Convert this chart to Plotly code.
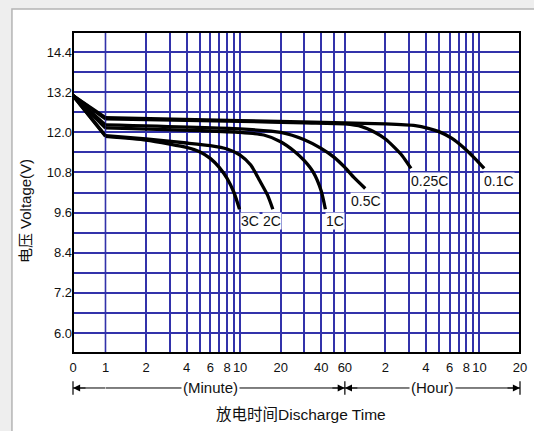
import numpy as np
import plotly.graph_objects as go

# ---------------- data (time in minutes, voltage in V) ----------------
c3_min = [0, 1, 2, 3, 4, 5, 6, 7, 8, 9, 9.9]
c3_v = [13.1, 11.88, 11.77, 11.65, 11.55, 11.42, 11.22, 10.95, 10.62, 10.2, 9.7]
c2_min = [0, 1, 2, 4, 6, 8, 10, 12, 14, 16, 17.5]
c2_v = [13.1, 11.9, 11.8, 11.68, 11.6, 11.5, 11.32, 11.02, 10.55, 10.12, 9.7]
c1_min = [0, 1, 5, 10, 15, 20, 25, 30, 35, 40, 43]
c1_v = [13.1, 12.13, 12.05, 12.0, 11.92, 11.72, 11.45, 11.15, 10.8, 10.25, 9.7]
c05_min = [0, 1, 10, 20, 30, 40, 50, 60, 70, 85]
c05_v = [13.1, 12.22, 12.1, 12.0, 11.78, 11.52, 11.25, 10.95, 10.65, 10.32]
c025_min = [0, 1, 10, 30, 60, 80, 100, 120, 140, 160, 186]
c025_v = [13.1, 12.4, 12.33, 12.28, 12.25, 12.17, 12.0, 11.8, 11.55, 11.3, 10.92]
c01_min = [0, 1, 10, 60, 120, 200, 250, 300, 375, 450, 570, 650]
c01_v = [13.1, 12.44, 12.35, 12.28, 12.25, 12.2, 12.12, 12.02, 11.82, 11.57, 11.17, 10.92]

curve_names = ["3C", "2C", "1C", "0.5C", "0.25C", "0.1C"]
curve_mins = [c3_min, c2_min, c1_min, c05_min, c025_min, c01_min]
curve_volts = [c3_v, c2_v, c1_v, c05_v, c025_v, c01_v]

# x tick labels / gridlines (minutes)
lin_ticks = [0, 1]
lin_labels = ["0", "1"]
log_grid = [1, 2, 3, 4, 5, 6, 7, 8, 9, 10, 20, 30, 40, 50, 60,
            120, 180, 240, 300, 360, 420, 480, 540, 600, 1200]
log_label_map = {2: "2", 4: "4", 6: "6", 8: "8", 10: "10", 20: "20", 40: "40", 60: "60",
                 120: "2", 240: "4", 360: "6", 480: "8", 600: "10", 1200: "20"}
log_labels = [log_label_map.get(v, "") for v in log_grid]

y_grid = [round(6.0 + 0.6 * i, 1) for i in range(15)]
y_labels = [f"{v:.1f}" if i % 2 == 0 else "" for i, v in enumerate(y_grid)]

# ---------------- style ----------------
GRID = "#3232aa"
GW = 1.6
FONT = "Liberation Sans, Arial, Noto Sans CJK SC, sans-serif"
D = 33 / 454  # split of the linear (0-1 min) and log (1 min - 20 h) parts

fig = go.Figure()
for name, mins, volts in zip(curve_names, curve_mins, curve_volts):
    fig.add_trace(go.Scatter(x=mins[:2], y=volts[:2], xaxis="x", yaxis="y", mode="lines",
                             line=dict(color="black", width=3.3), hoverinfo="skip"))
    fig.add_trace(go.Scatter(x=mins[1:], y=volts[1:], xaxis="x2", yaxis="y", mode="lines",
                             line=dict(color="black", width=3.3, shape="spline", smoothing=0.6),
                             hoverinfo="skip"))

label_pos = {
    "3C": dict(xanchor="left", xshift=0, yshift=-3),
    "2C": dict(xanchor="center", xshift=-1, yshift=-3),
    "1C": dict(xanchor="left", xshift=0, yshift=-3),
    "0.5C": dict(xanchor="center", xshift=1, yshift=-4),
    "0.25C": dict(xanchor="left", xshift=-1, yshift=-4),
    "0.1C": dict(xanchor="left", xshift=-1, yshift=-4),
}
annotations = []
for name, mins, volts in zip(curve_names, curve_mins, curve_volts):
    p = label_pos[name]
    annotations.append(dict(xref="x2", yref="y", x=np.log10(mins[-1]), y=volts[-1], text=name,
                            showarrow=False, yanchor="top", bgcolor="white", borderpad=0,
                            font=dict(family=FONT, size=14, color="#111"), **p))

arrow_y = -0.109
arrow_common = dict(yref="paper", y=arrow_y, ay=0, axref="pixel", ayref="pixel", text="",
                    showarrow=True, arrowhead=2, arrowsize=1.3, arrowwidth=1.1,
                    arrowcolor="black", standoff=0)
annotations += [
    dict(xref="paper", x=0, ax=14, **arrow_common),
    dict(xref="x2", x=np.log10(60), ax=-14, **arrow_common),
    dict(xref="x2", x=np.log10(60), ax=14, **arrow_common),
    dict(xref="paper", x=1, ax=-14, **arrow_common),
    dict(xref="x2", yref="paper", x=np.log10(6), y=arrow_y, text="(Minute)", showarrow=False,
         yanchor="middle", bgcolor="white", borderpad=1,
         font=dict(family=FONT, size=15, color="#111")),
    dict(xref="x2", yref="paper", x=np.log10(270), y=arrow_y, text="(Hour)", showarrow=False,
         yanchor="middle", bgcolor="white", borderpad=1,
         font=dict(family=FONT, size=15, color="#111")),
    dict(xref="paper", yref="paper", x=0.5, y=-0.193, xshift=4, text="放电时间Discharge Time",
         showarrow=False, xanchor="center", yanchor="middle",
         font=dict(family=FONT, size=15.5, color="#111")),
    dict(xref="paper", yref="paper", x=0, y=0.442, xshift=-48, text="电压 Voltage(V)",
         textangle=-90, showarrow=False, xanchor="center", yanchor="middle",
         font=dict(family=FONT, size=15, color="#111")),
]

bar_half = 0.021
shapes = [
    # page frame
    dict(type="rect", xref="paper", yref="paper", x0=(11 - 73) / 454, x1=1.2,
         y0=-0.4, y1=(353 - 9) / 321, line=dict(color="#b4b4b4", width=1.5),
         fillcolor="white", layer="below"),
    # 1-minute gridline at the join of the two x scales
    dict(type="line", xref="paper", yref="paper", x0=D, x1=D, y0=0, y1=1,
         line=dict(color=GRID, width=GW), layer="between"),
    # plot border
    dict(type="rect", xref="paper", yref="paper", x0=0, x1=1, y0=0, y1=1,
         line=dict(color="black", width=2), layer="above"),
    # time-span arrows
    dict(type="line", xref="x", yref="paper", x0=0, x1=1, y0=arrow_y, y1=arrow_y,
         line=dict(color="black", width=1)),
    dict(type="line", xref="x2", yref="paper", x0=1, x1=1200, y0=arrow_y, y1=arrow_y,
         line=dict(color="black", width=1)),
    dict(type="line", xref="paper", yref="paper", x0=0, x1=0,
         y0=arrow_y + bar_half, y1=arrow_y - bar_half, line=dict(color="black", width=1.2)),
    dict(type="line", xref="x2", yref="paper", x0=60, x1=60,
         y0=arrow_y + bar_half, y1=arrow_y - bar_half, line=dict(color="black", width=1.2)),
    dict(type="line", xref="paper", yref="paper", x0=1, x1=1,
         y0=arrow_y + bar_half, y1=arrow_y - bar_half, line=dict(color="black", width=1.2)),
]

tickfont = dict(family=FONT, size=13, color="#111")
fig.update_layout(
    width=534, height=431,
    margin=dict(l=73, r=7, t=32, b=78),
    paper_bgcolor="#eeeeee", plot_bgcolor="white",
    showlegend=False,
    xaxis=dict(domain=[0, D], range=[0, 1], tickmode="array", tickvals=lin_ticks,
               ticktext=lin_labels, showgrid=True, gridcolor=GRID, gridwidth=GW,
               zeroline=False, showline=False, ticks="", tickfont=tickfont, anchor="y",
               ticklabelstandoff=5),
    xaxis2=dict(domain=[D, 1], type="log", range=[0, np.log10(1200)], tickmode="array",
                tickvals=log_grid, ticktext=log_labels, showgrid=True, gridcolor=GRID,
                gridwidth=GW, zeroline=False, showline=False, ticks="", tickfont=tickfont,
                anchor="y", ticklabelstandoff=5),
    yaxis=dict(range=[5.4, 15.0], tickmode="array", tickvals=y_grid, ticktext=y_labels,
               showgrid=True, gridcolor=GRID, gridwidth=GW, zeroline=False, showline=False,
               ticks="", tickfont=tickfont, anchor="x"),
    annotations=annotations,
    shapes=shapes,
)

fig.write_html("out.html", config={"displayModeBar": False},
               post_script="document.body.style.margin='0';document.body.style.overflow='hidden';")
